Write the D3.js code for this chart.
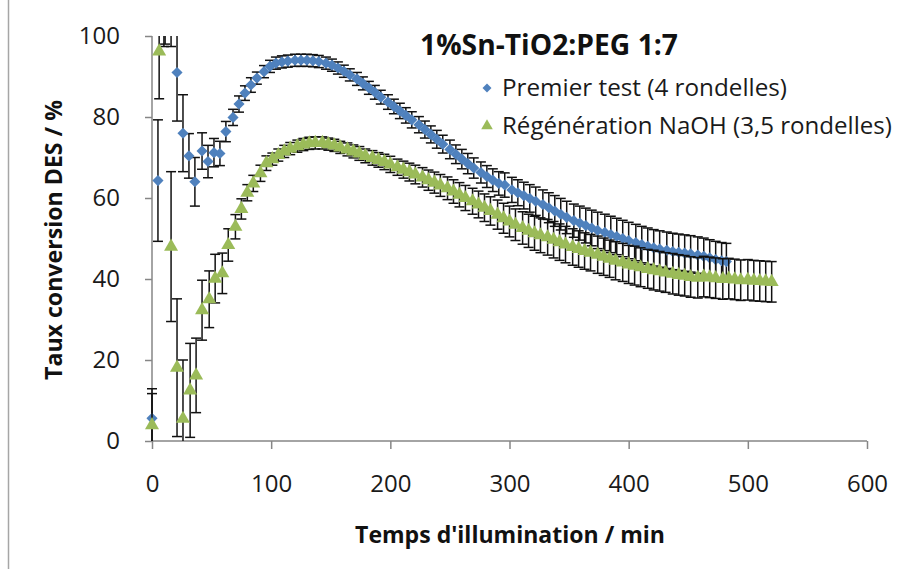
<!DOCTYPE html>
<html><head><meta charset="utf-8">
<script src="https://cdn.jsdelivr.net/npm/d3@7"></script>
<style>body{margin:0;background:#fff}svg{display:block}text{font-family:"Open Sans",Lato,sans-serif}</style>
</head><body><svg id="c" width="898" height="569"></svg>
<script>
const title = "1%Sn-TiO2:PEG 1:7";
const xTitle = "Temps d'illumination / min";
const yTitle = "Taux conversion DES / %";
const seriesNames = ["Premier test (4 rondelles)", "Régénération NaOH (3,5 rondelles)"];
const xTicks = [0,100,200,300,400,500,600];
const yTicks = [0,20,40,60,80,100];

// Premier test: time (min), conversion (%), error (%)
const blueT = [0,5,10,16,21,26,31,36,42,47,52,57,62,68,73,78,83,88,94,99,104,109,114,120,125,130,135,140,146,151,156,161,166,172,177,182,187,192,198,203,208,213,218,224,229,234,239,244,250,255,260,265,270,276,281,286,291,296,302,307,312,317,322,328,333,338,343,348,354,359,364,369,374,380,385,390,395,400,406,411,416,421,426,432,437,442,447,452,458,463,468,473,478,482];
const blueV = [5.6,64.3,110,104,91,76,70.4,64,71.6,69,71.2,71,76.4,79.9,83.2,85.9,87.9,89.6,91.2,92.5,93.3,93.6,93.8,94,94,94,93.9,93.7,93.3,92.8,92.1,91.3,90.4,89.4,88.3,87.2,86.1,84.9,83.7,82.6,81.5,80.4,79.3,78.1,76.9,75.7,74.5,73.3,72,70.8,69.6,68.5,67.4,66.3,65.3,64.4,63.6,63.2,62,61.3,60.6,59.9,59.2,58.4,57.6,56.8,56,55.2,54.4,53.8,53.2,52.6,52,51.5,51,50.5,50,49.5,49,48.5,48.1,47.7,47.4,47.1,46.8,46.6,46.4,46.2,45.9,45.6,45.2,44.8,44.5,44.3];
const blueE = [7.3,15,12.6,6.6,12,9.5,5.5,6,4.5,4,3.5,3,2.5,2,2,1.8,1.8,1.5,1.5,1.5,1.5,1.5,1.5,1.5,1.5,1.5,1.5,1.5,1.5,1.5,1.5,1.5,1.5,1.6,1.6,1.6,1.7,1.7,1.8,1.8,1.9,1.9,2,2,2.1,2.1,2.2,2.2,2.3,2.3,2.4,2.5,2.5,2.6,2.7,2.8,2.9,3,3.1,3.2,3.3,3.4,3.5,3.6,3.7,3.8,3.9,4,4.1,4.2,4.3,4.4,4.5,4.5,4.5,4.5,4.5,4.5,4.5,4.5,4.5,4.5,4.5,4.5,4.5,4.5,4.5,4.5,4.5,4.5,4.5,4.5,4.5,4.5];

// Régénération NaOH: time (min), conversion (%), error (%)
const greenT = [0,6,11,16,21,26,32,37,42,48,53,59,64,70,75,80,85,91,96,101,106,111,116,122,127,132,137,143,148,153,158,164,169,174,179,185,190,195,200,206,211,216,221,227,232,237,242,248,253,258,263,269,274,279,284,290,295,300,305,311,316,321,326,332,337,342,347,353,358,363,368,374,379,384,389,395,400,405,410,416,421,426,431,437,442,447,452,458,463,468,473,479,484,489,494,500,505,510,515,520];
const greenV = [3.9,96.2,112,48,18.1,5.5,12.5,16.2,32.3,35,40.1,41.4,48.4,52.9,57.3,61.3,63.6,66.1,68.6,69.6,70.6,71.5,72.2,72.8,73.2,73.5,73.6,73.6,73.3,73,72.5,72,71.5,71,70.4,69.9,69.4,68.9,68.3,67.6,67,66.4,65.8,65.1,64.4,63.8,63.1,62.4,61.6,60.8,60,59.2,58.4,57.6,56.8,55.9,55,54.2,53.4,52.6,51.9,51.3,50.8,50.3,49.7,49.1,48.5,47.9,47.4,46.9,46.5,46,45.5,45,44.5,44.1,43.6,43.3,42.9,42.5,42.2,41.9,41.6,41.3,41,40.8,40.5,40.3,40.6,40.4,40.2,40,40.1,39.9,39.7,39.8,39.6,39.5,39.4,39.3];
const greenE = [7.8,11.7,14,18.5,17,14.5,11.6,9.2,7.4,7,6,5,4,3,2.5,2,2,2,1.8,1.5,1.5,1.5,1.5,1.5,1.5,1.5,1.5,1.5,1.5,1.5,1.5,1.6,1.6,1.7,1.7,1.8,1.8,1.9,2,2,2.1,2.2,2.3,2.4,2.5,2.6,2.7,2.8,2.9,3,3.1,3.2,3.3,3.4,3.5,3.6,3.7,3.8,3.9,4,4.1,4.2,4.3,4.4,4.5,4.5,4.5,4.5,4.5,4.5,4.5,4.6,4.6,4.6,4.7,4.7,4.7,4.8,4.8,4.8,4.9,4.9,4.9,5,5,5,5,5,5,5,5,5,5,5,5,5,5,5,5,5];

const svg = d3.select("#c");
const x = d3.scaleLinear().domain([0,600]).range([152,867]);
const y = d3.scaleLinear().domain([0,100]).range([441,36]);
const axisColor = "#868686";

function fitWidth(sel, w){
  const len = sel.node().getComputedTextLength();
  const fs = parseFloat(sel.attr("font-size"));
  sel.attr("font-size", (fs*w/len).toFixed(2));
  return sel;
}

svg.append("line").attr("x1",8.5).attr("x2",8.5).attr("y1",0).attr("y2",569).attr("stroke","#a6a6a6").attr("stroke-width",1.5);

const gx = svg.append("g").attr("transform",`translate(0,${y(0)})`)
  .call(d3.axisBottom(x).tickValues(xTicks).tickSize(8).tickPadding(26).tickFormat(d3.format("d")));
const gy = svg.append("g").attr("transform",`translate(${x(0)},0)`)
  .call(d3.axisLeft(y).tickValues(yTicks).tickSize(7).tickPadding(25).tickFormat(d3.format("d")));
[gx,gy].forEach(g=>{
  g.selectAll("path,line").attr("stroke",axisColor).attr("stroke-width",1.5);
  g.selectAll("text").attr("font-size",24).attr("fill","#1a1a1a").style("font-family","'Open Sans',Lato,sans-serif");
});
gx.select(".domain").attr("d",`M${x(0)},0H${x(600)}`);
gy.select(".domain").attr("d",`M0,${y(0)}V${y(100)}`);

// clip only the top (values above 100) and below 0 for error bars
svg.append("defs").append("clipPath").attr("id","plot")
  .append("rect").attr("x",x(0)-15).attr("y",y(100)).attr("width",x(600)-x(0)+30).attr("height",y(0)-y(100));
const plot = svg.append("g").attr("clip-path","url(#plot)");

function drawSeries(T,V,E,shape,color,size){
  const data = T.map((t,i)=>({t,v:V[i],e:E[i]}));
  const eb = plot.append("g").attr("stroke","#111").attr("stroke-width",1.5);
  data.forEach(d=>{
    const cx = x(d.t);
    eb.append("line").attr("x1",cx).attr("x2",cx).attr("y1",y(d.v+d.e)).attr("y2",y(d.v-d.e));
    eb.append("line").attr("x1",cx-5).attr("x2",cx+5).attr("y1",y(d.v+d.e)).attr("y2",y(d.v+d.e));
    eb.append("line").attr("x1",cx-5).attr("x2",cx+5).attr("y1",y(d.v-d.e)).attr("y2",y(d.v-d.e));
  });
  plot.append("g").selectAll("path").data(data.filter(d=>d.v<=100)).join("path")
    .attr("d",d3.symbol().type(shape).size(size))
    .attr("transform",d=>`translate(${x(d.t)},${y(d.v)})${shape===d3.symbolSquare?" rotate(45)":""}`)
    .attr("fill",color);
}
drawSeries(blueT,blueV,blueE,d3.symbolSquare,"#4F81BD",62);
drawSeries(greenT,greenV,greenE,d3.symbolTriangle,"#9BBB59",85);

fitWidth(svg.append("text").attr("x",549).attr("y",55).attr("text-anchor","middle")
  .attr("font-size",23).attr("font-weight","bold").attr("fill","#111").text(title), 258);

const legItems = [{name:seriesNames[0],shape:d3.symbolSquare,color:"#4F81BD",size:40,y:88,w:285},
                  {name:seriesNames[1],shape:d3.symbolTriangle,color:"#9BBB59",size:58,y:126,w:390}];
legItems.forEach(it=>{
  svg.append("path").attr("d",d3.symbol().type(it.shape).size(it.size))
    .attr("transform",`translate(487,${it.y})${it.shape===d3.symbolSquare?" rotate(45)":""}`).attr("fill",it.color);
  fitWidth(svg.append("text").attr("x",502).attr("y",it.y).attr("dy","0.35em").attr("font-size",22).attr("fill","#1a1a1a").text(it.name), it.w);
});

fitWidth(svg.append("text").attr("x",510).attr("y",543).attr("text-anchor","middle")
  .attr("font-size",21).attr("font-weight","bold").attr("fill","#111").text(xTitle), 310);
fitWidth(svg.append("text").attr("transform","translate(62,240) rotate(-90)").attr("text-anchor","middle")
  .attr("font-size",21).attr("font-weight","bold").attr("fill","#111").text(yTitle), 280);
</script></body></html>
